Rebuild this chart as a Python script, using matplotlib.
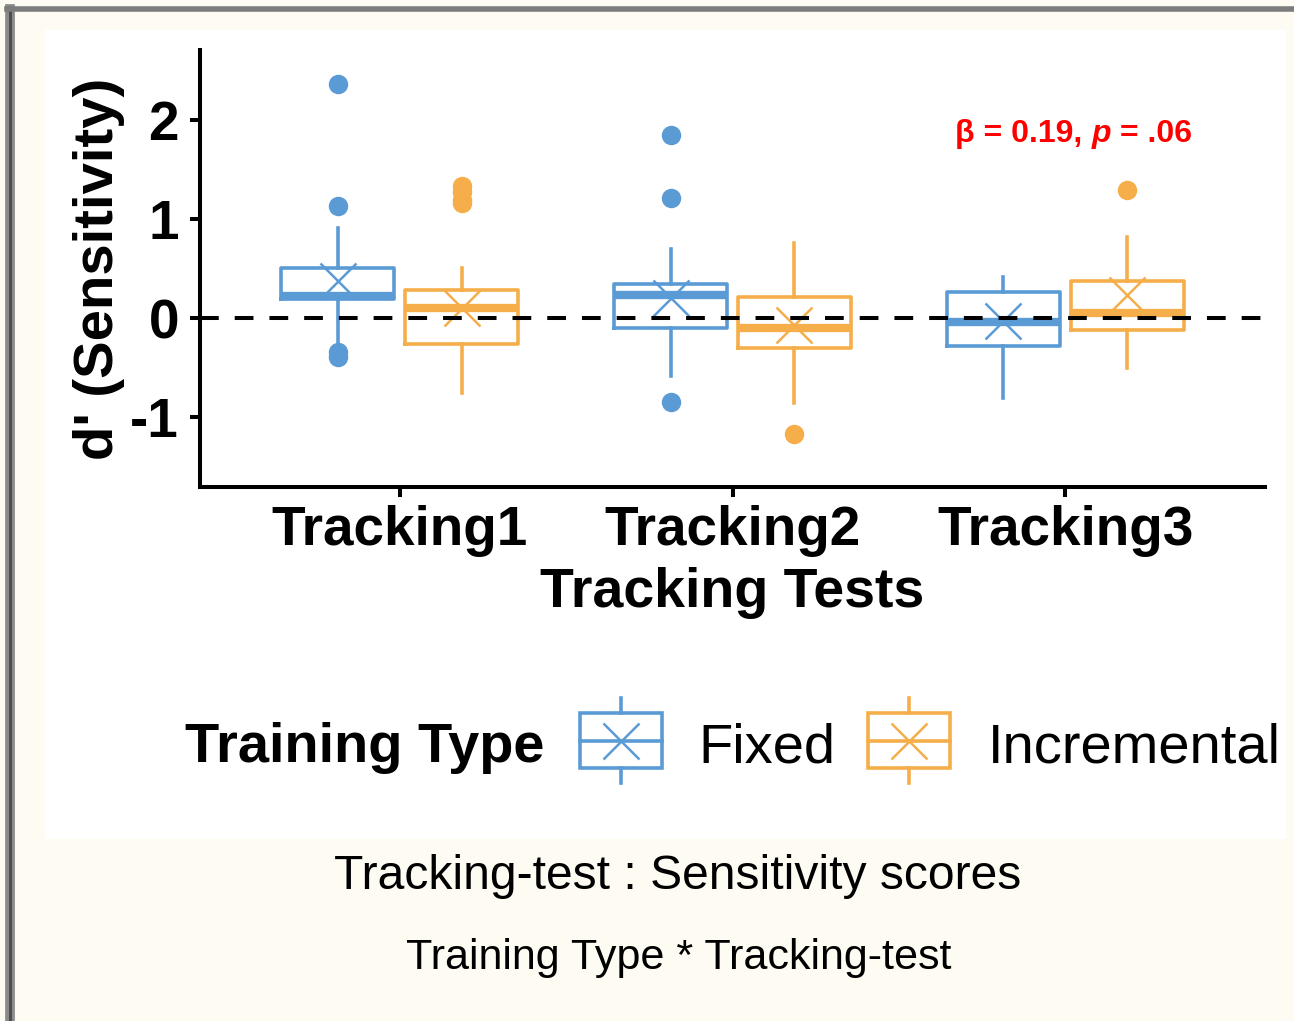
import matplotlib
matplotlib.use("Agg")
import matplotlib.pyplot as plt
from matplotlib.patches import Rectangle
from matplotlib.lines import Line2D

plt.rcParams["font.family"] = ["Liberation Sans", "DejaVu Sans"]
plt.rcParams["lines.scale_dashes"] = False

# values
tests = ["Tracking1", "Tracking2", "Tracking3"]
groups = ["Fixed", "Incremental"]

fixed_med = [0.22, 0.23, -0.04]
fixed_q1 = [0.19, -0.10, -0.28]
fixed_q3 = [0.51, 0.34, 0.26]
fixed_lo = [-0.24, -0.59, -0.81]
fixed_hi = [0.91, 0.70, 0.41]
fixed_mean = [0.37, 0.20, -0.03]
fixed_out = [[2.36, 1.13, -0.34, -0.39], [1.85, 1.21, -0.85], []]

inc_med = [0.10, -0.10, 0.05]
inc_q1 = [-0.26, -0.30, -0.12]
inc_q3 = [0.28, 0.215, 0.37]
inc_lo = [-0.76, -0.86, -0.51]
inc_hi = [0.51, 0.76, 0.82]
inc_mean = [0.10, -0.07, 0.23]
inc_out = [[1.33, 1.27, 1.19, 1.16], [-1.17], [1.29]]

COLORS = {"Fixed": "#5b9bd5", "Incremental": "#f5ae4a"}
CREAM = "#fefbf3"

fig = plt.figure(figsize=(12.94, 10.21), dpi=100, facecolor=CREAM)

# background panel / frame (pixel coordinates)
bg = fig.add_axes([0, 0, 1, 1], zorder=-1)
bg.set_xlim(0, 1294)
bg.set_ylim(1021, 0)
bg.axis("off")
bg.add_patch(Rectangle((45, 30), 1241, 809, facecolor="white", edgecolor="none"))
bg.add_line(Line2D([9.5, 9.5], [9, 1021], color="#8a8a8a", lw=7))
bg.add_line(Line2D([9.5, 9.5], [9, 1021], color="#4a4a4a", lw=2))
bg.add_line(Line2D([7, 1294], [9.5, 9.5], color="#7c7c7c", lw=4))

ax = fig.add_axes([200 / 1294, (1021 - 487) / 1021, 1065 / 1294, 437 / 1021])
ax.set_facecolor("white")


def make_stats(med, q1, q3, lo, hi, mean, out):
    return [dict(med=med[i], q1=q1[i], q3=q3[i], whislo=lo[i], whishi=hi[i],
                 mean=mean[i], fliers=out[i]) for i in range(len(med))]


series = {
    "Fixed": make_stats(fixed_med, fixed_q1, fixed_q3, fixed_lo, fixed_hi, fixed_mean, fixed_out),
    "Incremental": make_stats(inc_med, inc_q1, inc_q3, inc_lo, inc_hi, inc_mean, inc_out),
}
offsets = {"Fixed": -0.186, "Incremental": 0.186}
xs = list(range(1, len(tests) + 1))

for g in groups:
    c = COLORS[g]
    ax.bxp(
        series[g],
        positions=[x + offsets[g] for x in xs],
        widths=0.34,
        showmeans=True,
        showcaps=False,
        boxprops=dict(color=c, linewidth=2.6),
        whiskerprops=dict(color=c, linewidth=2.6),
        medianprops=dict(color=c, linewidth=6, solid_capstyle="butt"),
        meanprops=dict(marker="x", markersize=26, markeredgecolor=c,
                       markeredgewidth=1.8),
        flierprops=dict(marker="o", markersize=13, markerfacecolor=c,
                        markeredgecolor=c),
        manage_ticks=False,
    )

ax.axhline(0, color="black", lw=2.9, ls=(0, (13.5, 11.5)), zorder=5)

ax.set_xlim(0.4, 3.6)
ax.set_ylim(-1.707, 2.707)
ax.set_xticks(xs)
ax.set_xticklabels(tests)
ax.set_yticks([-1, 0, 1, 2])
ax.set_yticklabels(["-1", "0", "1", "2"])

for s in ["top", "right"]:
    ax.spines[s].set_visible(False)
for s in ["left", "bottom"]:
    ax.spines[s].set_linewidth(2.9)

ax.tick_params(axis="both", width=2.9, length=7.2, labelsize=39.5)
ax.tick_params(axis="y", pad=8)
ax.tick_params(axis="x", pad=6)
for lab in ax.get_xticklabels() + ax.get_yticklabels():
    lab.set_fontweight("bold")

ax.set_xlabel("Tracking Tests", fontsize=40, fontweight="bold", labelpad=7)
ax.set_ylabel("d' (Sensitivity)", fontsize=40.5, fontweight="bold", labelpad=4)

# annotation with italic p
t1 = ax.text(2.67, 1.78, "β = 0.19, ", color="red", fontsize=23,
             fontweight="bold", va="baseline", ha="left")
t2 = ax.annotate("p", xy=(1, 0), xycoords=t1, color="red", fontsize=23,
                 fontweight="bold", fontstyle="italic", va="bottom", ha="left")
ax.annotate(" = .06", xy=(1, 0), xycoords=t2, color="red", fontsize=23,
            fontweight="bold", va="bottom", ha="left")

# legend drawn by hand
bg.text(185, 762, "Training Type", fontsize=40.3, fontweight="bold",
        va="baseline", ha="left")
for g, x0, tx in [("Fixed", 580, 698), ("Incremental", 868, 988)]:
    c = COLORS[g]
    bg.add_patch(Rectangle((x0, 713), 82, 55, facecolor="none", edgecolor=c, lw=2.6))
    bg.add_line(Line2D([x0 + 41, x0 + 41], [698, 713], color=c, lw=2.6))
    bg.add_line(Line2D([x0 + 41, x0 + 41], [768, 783], color=c, lw=2.6))
    bg.add_line(Line2D([x0, x0 + 82], [740.5, 740.5], color=c, lw=2.6))
    bg.plot([x0 + 41], [740.5], marker="x", markersize=26, markeredgecolor=c,
            markeredgewidth=1.8, linestyle="none")
    bg.text(tx, 762, g, fontsize=40.4, va="baseline", ha="left")

# captions
bg.text(678, 889, "Tracking-test : Sensitivity scores", fontsize=34.6,
        va="baseline", ha="center")
bg.text(679, 969, "Training Type * Tracking-test", fontsize=31.1,
        va="baseline", ha="center")

fig.savefig("out.png", dpi=100, facecolor=CREAM)
